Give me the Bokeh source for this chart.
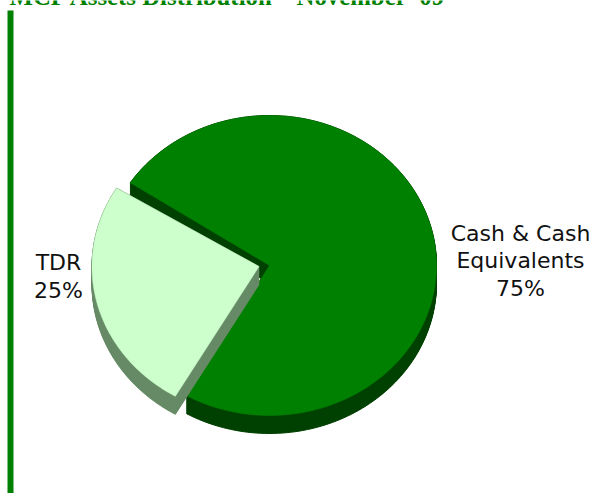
import numpy as np
from bokeh.plotting import figure
from bokeh.models import Range1d
from bokeh.core.properties import value
from bokeh.embed import file_html
from bokeh.resources import INLINE

categories = ["TDR", "Cash & Cash\nEquivalents"]
shares = [25.4, 74.6]
title_text = "MCF Assets Distribution \u2013 November '09"

W, H = 608, 493
p = figure(width=W, height=H, x_range=Range1d(0, W), y_range=Range1d(H, 0),
           output_backend="svg", toolbar_location=None, min_border=0)
p.axis.visible = False
p.grid.visible = False
p.outline_line_color = None
p.styles = {"position": "absolute", "top": "0px", "left": "0px"}

GREEN, DARK, LIGHT, LIGHT_SIDE = "#008000", "#004000", "#ccffcc", "#668a66"
RX, RY, DEPTH = 167, 150, 18
START = 148.5
CASH_PAD_START, CASH_PAD_END = 0.3, 2

def wedge(cx, cy, a0, a1, rx=RX, ry=RY):
    t = np.radians(np.linspace(a0, a1, 181))
    return (np.r_[cx, cx + rx * np.cos(t)], np.r_[cy, cy - ry * np.sin(t)])

sweep = [s / sum(shares) * 360 for s in shares]
tdr0, tdr1 = START, START + sweep[0]
cash0, cash1 = tdr1 + CASH_PAD_START, tdr1 + sweep[1] - CASH_PAD_END
centers = [(258.5, 266), (269, 265)]

def slab(xs, ys, d):
    return [(xs, ys + k) for k in range(d + 1)]

p.quad(left=7, right=13, top=10, bottom=H, fill_color=GREEN, line_color=None)

xs, ys = wedge(*centers[1], cash0, cash1)
for xk, yk in slab(xs, ys, DEPTH):
    p.patch(xk, yk, fill_color=DARK, line_color=DARK, line_width=1)
p.patch(xs, ys, fill_color=GREEN, line_color=GREEN, line_width=0.5)

xs, ys = wedge(*centers[0], tdr0, tdr1)
for xk, yk in slab(xs, ys, DEPTH):
    p.patch(xk, yk, fill_color=LIGHT_SIDE, line_color=LIGHT_SIDE, line_width=1)
p.patch(xs, ys, fill_color=LIGHT, line_color=LIGHT, line_width=0.5)

font = value("DejaVu Sans")
label_pos = [(58, [262, 290]), (520, [233, 260, 288])]
for (cat, share, (lx, lys)) in zip(categories, shares, label_pos):
    lines = cat.split("\n") + [f"{round(share)}%"]
    p.text(x=[lx] * len(lines), y=lys, text=lines, text_font=font, text_font_size="22px",
           text_color="#111111", text_align="center", text_baseline="middle")

p.text(x=[9], y=[-4.5], text=[title_text], text_font=value("Liberation Serif"), text_font_style="bold",
       text_font_size="24.8px", text_color=GREEN, text_align="left", text_baseline="alphabetic")

open("out.html", "w").write(file_html(p, INLINE))
